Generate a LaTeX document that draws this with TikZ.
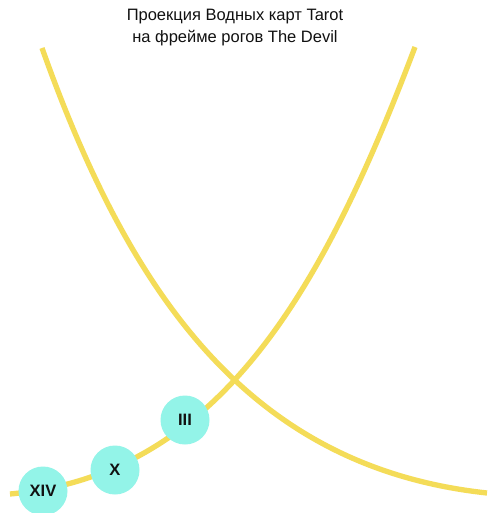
\documentclass[tikz,border=0pt]{standalone}
\usepackage{fontspec}
\setmainfont{Liberation Sans}
\definecolor{hornyellow}{HTML}{F4DC58}
\definecolor{cardcyan}{HTML}{93F4E8}
\definecolor{inkdark}{HTML}{111111}
\begin{document}
\begin{tikzpicture}[x=1pt,y=-1pt,
  horn/.style={draw=hornyellow,line width=5.3pt,line cap=butt},
  card/.style={circle,fill=cardcyan,minimum size=49pt,inner sep=0pt,
    font=\fontsize{16.5}{16.5}\selectfont\bfseries,text=inkdark},
  titletext/.style={align=center,font=\fontsize{16.5}{22}\selectfont,text=inkdark}]
\useasboundingbox[fill=white] (0,0) rectangle (487,513);
\node[titletext] (title) at (235,28) {Проекция Водных карт Tarot\\на фрейме рогов The Devil};
% descending horn
\coordinate (a0) at (42,48);
\coordinate (a1) at (487,493);
\draw[horn] (a0) .. controls (130.2,295.8) and (250.2,467.4) .. (a1);
% ascending horn
\coordinate (b0) at (10,494);
\coordinate (b1) at (415,47);
\draw[horn] (b0) .. controls (219.2,475.1) and (323,290.1) .. (b1);
\node[card] (xiv) at (43,491) {XIV};
\node[card] (x) at (115,470) {X};
\node[card] (iii) at (185,420) {III};
\end{tikzpicture}
\end{document}
